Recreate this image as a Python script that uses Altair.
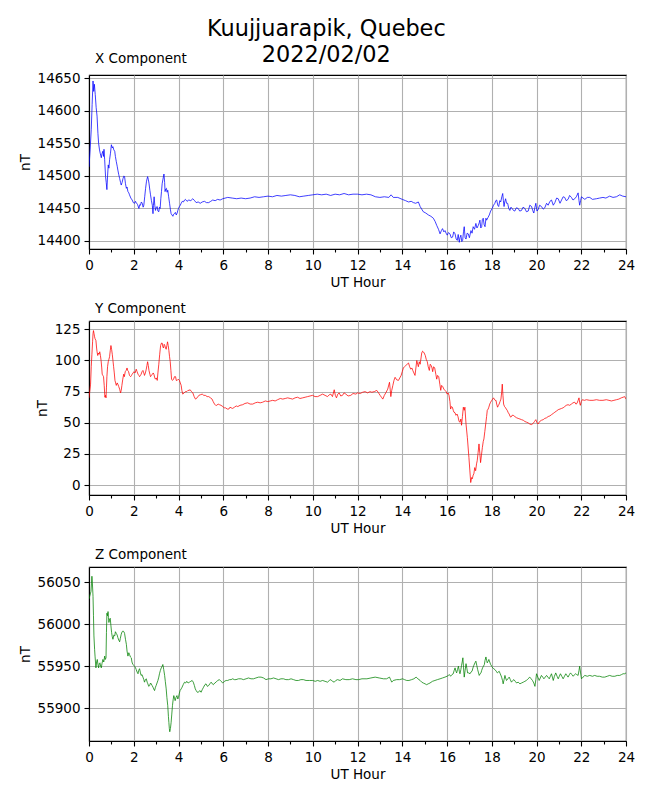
import altair as alt
import pandas as pd

FONT = "DejaVu Sans"
TITLE_LINES = ["Kuujjuarapik, Quebec", "2022/02/02"]
PANEL_TITLES = ["X Component", "Y Component", "Z Component"]
COLORS = ["#0000ff", "#ff0000", "#008000"]
HOUR_TICKS = list(range(0, 25))
X_COMP_TICKS = [14400, 14450, 14500, 14550, 14600, 14650]
Y_COMP_TICKS = [0, 25, 50, 75, 100, 125]
Z_COMP_TICKS = [55900, 55950, 56000, 56050]
X_DOMAIN = [14387.7, 14655.2]
Y_DOMAIN = [-8.0, 131.7]
Z_DOMAIN = [55861, 56068]

# (UT hour, nT)
X_SERIES = [
    (0.00, 14514), (0.05, 14540), (0.10, 14571), (0.14, 14610), (0.18, 14646), (0.21, 14630),
    (0.24, 14641), (0.28, 14625), (0.32, 14605), (0.36, 14592), (0.40, 14565), (0.43, 14550),
    (0.47, 14540), (0.50, 14535), (0.55, 14528), (0.58, 14534), (0.62, 14538), (0.65, 14530),
    (0.67, 14541), (0.70, 14525), (0.74, 14499), (0.77, 14490), (0.80, 14479), (0.83, 14500),
    (0.86, 14517), (0.89, 14512), (0.92, 14525), (0.96, 14535), (1.00, 14548), (1.04, 14543),
    (1.07, 14545), (1.11, 14540), (1.15, 14538), (1.18, 14530), (1.22, 14522), (1.26, 14515),
    (1.29, 14509), (1.33, 14502), (1.37, 14496), (1.41, 14490), (1.44, 14486), (1.48, 14490),
    (1.52, 14496), (1.56, 14500), (1.59, 14499), (1.63, 14488), (1.67, 14481), (1.70, 14483),
    (1.74, 14476), (1.78, 14474), (1.81, 14471), (1.87, 14466), (1.93, 14463), (1.98, 14459),
    (2.04, 14458), (2.08, 14461), (2.11, 14459), (2.17, 14456), (2.23, 14450), (2.27, 14456),
    (2.30, 14455), (2.34, 14460), (2.38, 14458), (2.42, 14452), (2.45, 14455), (2.49, 14468),
    (2.53, 14481), (2.57, 14492), (2.62, 14499), (2.65, 14495), (2.68, 14489), (2.72, 14478),
    (2.75, 14471), (2.79, 14462), (2.83, 14455), (2.86, 14442), (2.88, 14455), (2.91, 14468),
    (2.94, 14455), (2.97, 14447), (3.01, 14452), (3.05, 14453), (3.08, 14446), (3.12, 14445),
    (3.15, 14452), (3.18, 14450), (3.21, 14465), (3.24, 14476), (3.27, 14488), (3.30, 14494),
    (3.35, 14503), (3.38, 14490), (3.40, 14476), (3.43, 14480), (3.46, 14481), (3.49, 14475),
    (3.52, 14478), (3.56, 14468), (3.60, 14458), (3.64, 14448), (3.67, 14442), (3.71, 14440),
    (3.75, 14438), (3.78, 14441), (3.82, 14442), (3.86, 14444), (3.90, 14440), (3.94, 14443),
    (3.97, 14447), (4.00, 14450), (4.04, 14453), (4.08, 14455), (4.12, 14458), (4.17, 14461),
    (4.22, 14460), (4.27, 14463), (4.31, 14464), (4.38, 14461), (4.46, 14463), (4.55, 14462),
    (4.64, 14465), (4.72, 14462), (4.79, 14459), (4.88, 14460), (4.97, 14458), (5.06, 14460),
    (5.16, 14461), (5.25, 14459), (5.35, 14459), (5.44, 14461), (5.53, 14463), (5.64, 14462),
    (5.75, 14464), (5.86, 14463), (5.98, 14465), (6.20, 14467), (6.40, 14466), (6.60, 14465),
    (6.80, 14466), (7.00, 14465), (7.20, 14466), (7.40, 14468), (7.60, 14467), (7.80, 14468),
    (8.00, 14469), (8.20, 14468), (8.40, 14470), (8.60, 14469), (8.80, 14470), (9.00, 14471),
    (9.20, 14470), (9.40, 14468), (9.60, 14469), (9.80, 14470), (10.00, 14471), (10.20, 14472),
    (10.40, 14471), (10.60, 14472), (10.80, 14470), (11.00, 14472), (11.20, 14471), (11.40, 14473),
    (11.60, 14471), (11.80, 14472), (12.00, 14472), (12.20, 14471), (12.40, 14472), (12.60, 14471),
    (12.80, 14468), (13.00, 14467), (13.20, 14468), (13.40, 14467), (13.50, 14471), (13.60, 14467),
    (13.80, 14467), (14.00, 14464), (14.15, 14462), (14.28, 14460), (14.40, 14461), (14.50, 14459),
    (14.60, 14458), (14.72, 14460), (14.80, 14453), (14.87, 14449), (14.94, 14445), (15.05, 14443),
    (15.17, 14440), (15.28, 14438), (15.39, 14435), (15.47, 14430), (15.54, 14424), (15.62, 14418),
    (15.69, 14411), (15.75, 14416), (15.80, 14419), (15.86, 14414), (15.91, 14416), (15.96, 14412),
    (16.01, 14409), (16.07, 14413), (16.13, 14411), (16.19, 14405), (16.25, 14406), (16.30, 14414),
    (16.36, 14411), (16.41, 14403), (16.46, 14401), (16.50, 14410), (16.55, 14398), (16.58, 14405),
    (16.62, 14409), (16.66, 14399), (16.70, 14401), (16.74, 14415), (16.77, 14422), (16.81, 14405),
    (16.85, 14403), (16.90, 14412), (16.95, 14411), (17.00, 14405), (17.07, 14416), (17.12, 14412),
    (17.17, 14422), (17.23, 14418), (17.29, 14427), (17.34, 14420), (17.40, 14424), (17.44, 14428),
    (17.47, 14432), (17.51, 14420), (17.55, 14422), (17.58, 14433), (17.62, 14435), (17.66, 14425),
    (17.70, 14422), (17.74, 14435), (17.77, 14432), (17.83, 14436), (17.89, 14440), (17.95, 14446),
    (18.02, 14450), (18.08, 14455), (18.14, 14458), (18.18, 14462), (18.22, 14463), (18.27, 14455),
    (18.31, 14453), (18.36, 14462), (18.40, 14460), (18.45, 14468), (18.49, 14473), (18.52, 14462),
    (18.55, 14453), (18.58, 14460), (18.62, 14465), (18.66, 14458), (18.71, 14458), (18.76, 14450),
    (18.81, 14447), (18.86, 14452), (18.91, 14450), (18.97, 14447), (19.03, 14446), (19.10, 14451),
    (19.18, 14450), (19.25, 14446), (19.33, 14447), (19.40, 14452), (19.48, 14450), (19.55, 14445),
    (19.63, 14446), (19.70, 14455), (19.78, 14453), (19.83, 14447), (19.88, 14443), (19.93, 14452),
    (19.97, 14458), (20.02, 14446), (20.07, 14448), (20.14, 14455), (20.22, 14453), (20.30, 14449),
    (20.37, 14451), (20.45, 14458), (20.52, 14455), (20.60, 14461), (20.67, 14463), (20.75, 14455),
    (20.82, 14459), (20.90, 14466), (20.97, 14465), (21.05, 14458), (21.12, 14463), (21.19, 14468),
    (21.26, 14467), (21.33, 14462), (21.41, 14464), (21.48, 14470), (21.56, 14467), (21.63, 14463),
    (21.71, 14465), (21.78, 14468), (21.86, 14474), (21.90, 14462), (21.93, 14455), (21.97, 14462),
    (22.01, 14468), (22.08, 14466), (22.16, 14464), (22.27, 14467), (22.38, 14467), (22.50, 14464),
    (22.68, 14465), (22.82, 14466), (22.97, 14467), (23.10, 14466), (23.27, 14469), (23.42, 14467),
    (23.57, 14468), (23.72, 14471), (23.85, 14469), (24.00, 14468),
]

Y_SERIES = [
    (0.00, 70), (0.04, 76), (0.07, 81), (0.10, 95), (0.13, 105), (0.16, 115), (0.18, 121.5),
    (0.20, 124), (0.22, 122), (0.25, 119), (0.27, 117.5), (0.31, 116), (0.34, 110), (0.36, 107),
    (0.39, 104), (0.42, 106), (0.45, 105), (0.48, 107), (0.51, 104), (0.54, 100), (0.57, 94),
    (0.59, 89), (0.62, 88), (0.65, 87), (0.68, 80), (0.71, 70.5), (0.74, 72), (0.76, 70),
    (0.78, 78), (0.80, 87), (0.83, 95), (0.86, 99), (0.89, 101), (0.92, 103), (0.95, 108),
    (0.98, 112), (1.01, 109), (1.04, 105), (1.07, 100), (1.10, 95), (1.13, 90), (1.16, 84),
    (1.19, 82), (1.22, 80), (1.26, 82), (1.29, 81), (1.33, 79), (1.37, 77), (1.41, 74),
    (1.44, 76), (1.47, 80), (1.51, 85), (1.55, 89), (1.58, 87), (1.62, 91), (1.66, 92),
    (1.70, 94), (1.73, 92), (1.77, 91), (1.81, 88), (1.86, 87), (1.90, 88), (1.93, 89),
    (1.97, 90), (2.01, 91), (2.06, 90), (2.11, 93), (2.15, 91), (2.19, 89), (2.23, 88),
    (2.26, 87), (2.30, 88), (2.33, 89), (2.37, 91), (2.41, 92), (2.45, 90), (2.48, 88),
    (2.52, 90), (2.56, 93), (2.59, 96), (2.62, 99), (2.65, 96), (2.68, 92), (2.72, 89),
    (2.75, 87), (2.79, 88), (2.83, 89), (2.87, 90), (2.90, 89), (2.94, 86), (2.97, 85),
    (3.01, 86), (3.05, 84), (3.08, 90), (3.12, 97), (3.16, 105), (3.20, 112), (3.24, 114),
    (3.27, 114), (3.30, 111), (3.33, 110), (3.36, 113), (3.39, 112), (3.42, 110), (3.45, 109),
    (3.48, 112), (3.51, 115), (3.54, 112), (3.57, 108), (3.60, 103), (3.63, 99), (3.66, 92),
    (3.69, 85), (3.73, 84), (3.78, 85), (3.82, 87), (3.87, 87), (3.90, 84), (3.94, 84),
    (3.99, 85), (4.04, 84), (4.08, 82), (4.12, 80), (4.15, 76), (4.19, 73), (4.25, 74),
    (4.31, 75), (4.37, 75), (4.42, 76), (4.47, 76), (4.52, 76.5), (4.58, 75), (4.64, 74),
    (4.70, 71), (4.76, 69), (4.83, 70), (4.91, 72), (4.98, 72.5), (5.06, 73), (5.13, 72),
    (5.20, 72), (5.28, 71), (5.35, 71), (5.43, 70), (5.50, 69), (5.55, 67), (5.61, 65),
    (5.66, 64), (5.71, 64), (5.77, 65), (5.83, 64.5), (5.90, 64), (5.98, 63), (6.04, 62),
    (6.10, 62), (6.18, 61), (6.25, 61), (6.30, 62.5), (6.35, 62), (6.42, 61.5), (6.50, 62.5),
    (6.58, 63.5), (6.65, 63), (6.75, 64), (6.87, 64.5), (6.97, 65.5), (7.09, 66), (7.20, 65),
    (7.32, 65), (7.43, 66), (7.54, 66.5), (7.65, 66), (7.76, 66.5), (7.88, 67.5), (7.99, 67),
    (8.10, 67.5), (8.21, 68), (8.32, 67.5), (8.43, 68.5), (8.55, 69.5), (8.66, 69), (8.77, 69.5),
    (8.88, 70), (8.99, 69.5), (9.10, 69), (9.21, 70), (9.32, 70.5), (9.43, 69.5), (9.55, 70),
    (9.66, 70.5), (9.77, 71), (9.88, 71.5), (9.99, 72), (10.10, 71), (10.22, 71), (10.33, 72),
    (10.44, 73), (10.55, 72), (10.66, 71), (10.74, 72.5), (10.81, 73), (10.88, 71), (10.96, 76.5),
    (11.01, 72), (11.06, 70), (11.12, 73), (11.18, 74), (11.25, 71.5), (11.33, 72), (11.40, 74),
    (11.48, 73), (11.58, 71.5), (11.70, 72), (11.80, 73.5), (11.93, 73), (12.00, 74),
    (12.12, 73.5), (12.23, 74.5), (12.34, 75), (12.45, 74), (12.56, 75), (12.64, 74.5),
    (12.75, 75), (12.86, 76), (12.94, 74), (13.01, 72), (13.07, 70.5), (13.13, 69), (13.20, 72),
    (13.28, 74.5), (13.35, 77), (13.43, 82.5), (13.46, 77), (13.49, 71), (13.53, 76), (13.58, 80),
    (13.63, 84), (13.68, 86.5), (13.75, 84.5), (13.83, 84), (13.89, 86), (13.95, 88), (14.00, 91),
    (14.05, 94), (14.10, 95), (14.16, 96), (14.22, 97), (14.28, 98), (14.33, 95), (14.38, 93),
    (14.43, 94), (14.47, 92), (14.52, 90), (14.57, 88), (14.61, 94), (14.65, 100), (14.69, 97),
    (14.72, 95), (14.76, 99), (14.80, 97), (14.84, 102), (14.87, 106), (14.91, 107.5),
    (14.94, 107), (14.98, 106), (15.03, 104), (15.07, 101), (15.12, 99), (15.16, 95), (15.21, 92),
    (15.25, 97), (15.29, 96), (15.33, 94), (15.36, 91), (15.40, 95), (15.45, 94), (15.50, 89),
    (15.54, 85), (15.58, 88), (15.63, 87), (15.68, 81), (15.72, 76), (15.76, 80), (15.81, 79),
    (15.86, 77), (15.91, 76), (15.96, 75), (16.01, 73), (16.05, 74), (16.09, 72), (16.13, 67),
    (16.16, 61), (16.20, 63), (16.24, 62.5), (16.28, 60), (16.31, 58.5), (16.36, 58), (16.40, 56),
    (16.45, 57), (16.49, 55), (16.54, 51), (16.58, 50.5), (16.62, 53), (16.65, 48), (16.69, 55),
    (16.73, 62.5), (16.77, 60), (16.80, 62.5), (16.85, 49), (16.91, 38), (16.98, 22), (17.02, 12),
    (17.06, 2), (17.10, 6), (17.13, 5), (17.17, 8), (17.20, 9), (17.24, 14), (17.28, 11.5),
    (17.32, 17), (17.35, 19.5), (17.39, 26), (17.43, 33), (17.47, 25), (17.50, 18), (17.54, 24),
    (17.58, 30), (17.62, 35), (17.65, 37), (17.69, 43), (17.73, 49), (17.77, 55), (17.80, 60),
    (17.84, 61), (17.87, 62.5), (17.91, 65), (17.95, 66.5), (18.00, 68), (18.04, 69), (18.08, 70),
    (18.11, 69), (18.15, 68), (18.19, 68), (18.22, 65), (18.26, 62.5), (18.30, 64), (18.33, 65),
    (18.37, 67), (18.41, 69), (18.44, 74), (18.47, 81), (18.50, 72), (18.53, 65), (18.57, 63),
    (18.60, 62.5), (18.65, 61), (18.69, 60), (18.74, 58), (18.78, 57), (18.82, 55), (18.86, 54.5),
    (18.91, 56), (18.96, 56), (19.03, 55), (19.11, 54), (19.18, 53.5), (19.26, 53), (19.33, 52.5),
    (19.41, 52), (19.48, 51), (19.55, 50.5), (19.62, 50), (19.70, 49), (19.77, 48.5),
    (19.85, 49.5), (19.91, 51), (19.97, 52.5), (20.02, 50), (20.07, 49), (20.14, 51), (20.22, 52),
    (20.30, 52.5), (20.37, 53.5), (20.45, 54), (20.52, 55), (20.60, 55.5), (20.67, 56.5),
    (20.75, 57.5), (20.82, 58.5), (20.90, 59.5), (20.97, 60.5), (21.05, 61), (21.12, 61.5),
    (21.19, 62), (21.26, 63), (21.33, 64), (21.41, 64.5), (21.48, 64), (21.56, 65), (21.63, 66),
    (21.71, 66.5), (21.76, 65), (21.81, 65.5), (21.86, 68), (21.90, 70), (21.93, 66), (21.96, 64),
    (22.00, 67), (22.05, 68.5), (22.14, 68), (22.23, 68.5), (22.38, 68), (22.53, 68),
    (22.68, 68.5), (22.82, 68), (22.97, 68), (23.12, 68.5), (23.24, 68), (23.35, 67.5),
    (23.46, 68), (23.57, 68.5), (23.68, 69), (23.79, 70), (23.87, 70.5), (23.94, 71), (24.00, 69),
]

Z_SERIES = [
    (0.00, 56030), (0.03, 56033), (0.06, 56036), (0.09, 56039), (0.11, 56048), (0.13, 56057),
    (0.15, 56050), (0.18, 56033), (0.20, 56010), (0.22, 55986), (0.25, 55970), (0.27, 55962),
    (0.29, 55955), (0.31, 55948), (0.34, 55955), (0.37, 55958), (0.40, 55952), (0.43, 55948),
    (0.46, 55953), (0.49, 55954), (0.52, 55950), (0.55, 55948), (0.58, 55953), (0.62, 55958),
    (0.66, 55955), (0.70, 55962), (0.73, 55958), (0.76, 55960), (0.78, 55990), (0.80, 56013),
    (0.83, 56010), (0.85, 56015), (0.87, 56008), (0.89, 56002), (0.92, 56006), (0.95, 56007),
    (0.98, 55998), (1.01, 55990), (1.04, 55985), (1.07, 55982), (1.11, 55987), (1.15, 55986),
    (1.18, 55991), (1.22, 55989), (1.26, 55987), (1.29, 55984), (1.33, 55981), (1.37, 55979),
    (1.40, 55983), (1.44, 55988), (1.48, 55991), (1.52, 55992), (1.56, 55991), (1.59, 55989),
    (1.63, 55982), (1.67, 55976), (1.70, 55968), (1.74, 55962), (1.78, 55966), (1.81, 55964),
    (1.85, 55961), (1.89, 55960), (1.92, 55955), (1.96, 55952), (2.00, 55951), (2.04, 55950),
    (2.08, 55948), (2.11, 55946), (2.15, 55943), (2.19, 55941), (2.22, 55945), (2.26, 55947),
    (2.30, 55942), (2.33, 55939), (2.37, 55940), (2.41, 55937), (2.45, 55934), (2.48, 55931),
    (2.52, 55934), (2.56, 55935), (2.60, 55931), (2.63, 55929), (2.67, 55926), (2.71, 55927),
    (2.75, 55930), (2.78, 55929), (2.82, 55927), (2.86, 55925), (2.89, 55923), (2.93, 55921),
    (2.97, 55925), (3.00, 55927), (3.04, 55930), (3.08, 55933), (3.12, 55937), (3.15, 55941),
    (3.19, 55945), (3.23, 55948), (3.27, 55950), (3.30, 55952), (3.34, 55946), (3.38, 55939),
    (3.41, 55932), (3.45, 55923), (3.48, 55913), (3.52, 55903), (3.55, 55890), (3.57, 55883),
    (3.59, 55876), (3.61, 55872), (3.64, 55876), (3.67, 55883), (3.70, 55893), (3.73, 55903),
    (3.76, 55910), (3.79, 55915), (3.82, 55912), (3.85, 55909), (3.89, 55913), (3.93, 55915),
    (3.97, 55911), (4.00, 55913), (4.04, 55918), (4.07, 55921), (4.12, 55923), (4.16, 55925),
    (4.21, 55928), (4.27, 55931), (4.32, 55930), (4.37, 55932), (4.43, 55930), (4.49, 55931),
    (4.55, 55932), (4.61, 55933), (4.66, 55931), (4.71, 55927), (4.75, 55923), (4.79, 55921),
    (4.84, 55919), (4.89, 55919), (4.95, 55921), (5.01, 55919), (5.06, 55922), (5.12, 55925),
    (5.18, 55928), (5.23, 55929), (5.29, 55926), (5.35, 55927), (5.40, 55929), (5.46, 55931),
    (5.51, 55929), (5.56, 55928), (5.62, 55930), (5.68, 55931), (5.75, 55933), (5.83, 55934),
    (5.90, 55932), (5.98, 55930), (6.05, 55932), (6.13, 55933), (6.20, 55933), (6.28, 55934),
    (6.35, 55934), (6.42, 55935), (6.50, 55934), (6.57, 55934), (6.68, 55935), (6.80, 55935),
    (6.90, 55934), (7.02, 55935), (7.13, 55936), (7.24, 55935), (7.35, 55935), (7.46, 55936),
    (7.58, 55937), (7.69, 55937), (7.80, 55936), (7.91, 55934), (8.02, 55935), (8.13, 55935),
    (8.25, 55936), (8.36, 55935), (8.47, 55934), (8.58, 55935), (8.69, 55935), (8.80, 55934),
    (8.92, 55934), (9.03, 55935), (9.14, 55934), (9.25, 55933), (9.36, 55933), (9.47, 55934),
    (9.58, 55934), (9.70, 55933), (9.85, 55933), (10.00, 55933), (10.11, 55932), (10.22, 55933),
    (10.33, 55932), (10.44, 55933), (10.55, 55932), (10.66, 55931), (10.74, 55933), (10.81, 55934),
    (10.88, 55932), (10.96, 55931), (11.03, 55933), (11.11, 55934), (11.22, 55933), (11.33, 55935),
    (11.48, 55934), (11.63, 55934), (11.78, 55935), (11.93, 55934), (12.05, 55934), (12.20, 55935),
    (12.42, 55935), (12.60, 55936), (12.79, 55937), (12.97, 55936), (13.16, 55935), (13.30, 55935),
    (13.43, 55937), (13.48, 55934), (13.53, 55931), (13.60, 55933), (13.75, 55934), (13.88, 55934),
    (14.02, 55935), (14.10, 55934), (14.20, 55933), (14.30, 55933), (14.42, 55934), (14.52, 55935),
    (14.62, 55937), (14.70, 55935), (14.80, 55933), (14.87, 55931), (14.94, 55930), (15.02, 55929),
    (15.09, 55928), (15.16, 55929), (15.24, 55930), (15.35, 55932), (15.46, 55933), (15.57, 55934),
    (15.69, 55935), (15.80, 55936), (15.91, 55937), (16.00, 55938), (16.06, 55939), (16.11, 55940),
    (16.16, 55938), (16.22, 55940), (16.28, 55941), (16.32, 55945), (16.36, 55948), (16.40, 55944),
    (16.43, 55942), (16.47, 55946), (16.51, 55950), (16.55, 55944), (16.58, 55941), (16.62, 55946),
    (16.65, 55951), (16.68, 55955), (16.71, 55960), (16.74, 55948), (16.77, 55937), (16.81, 55945),
    (16.85, 55953), (16.89, 55947), (16.92, 55942), (16.97, 55942), (17.03, 55941), (17.07, 55943),
    (17.12, 55944), (17.16, 55948), (17.20, 55951), (17.25, 55954), (17.29, 55956), (17.33, 55951),
    (17.37, 55946), (17.41, 55942), (17.44, 55939), (17.48, 55941), (17.52, 55942), (17.55, 55945),
    (17.59, 55948), (17.63, 55950), (17.67, 55952), (17.70, 55957), (17.74, 55961), (17.77, 55957),
    (17.80, 55954), (17.84, 55956), (17.87, 55958), (17.91, 55955), (17.95, 55952), (18.00, 55950),
    (18.04, 55948), (18.09, 55947), (18.14, 55946), (18.20, 55944), (18.25, 55942), (18.29, 55943),
    (18.33, 55944), (18.38, 55941), (18.44, 55937), (18.48, 55933), (18.51, 55929), (18.55, 55934),
    (18.59, 55939), (18.62, 55936), (18.66, 55933), (18.72, 55935), (18.78, 55937), (18.83, 55934),
    (18.88, 55931), (18.94, 55933), (18.99, 55934), (19.05, 55932), (19.11, 55930), (19.18, 55931),
    (19.26, 55929), (19.33, 55930), (19.41, 55931), (19.48, 55932), (19.55, 55933), (19.62, 55935),
    (19.70, 55937), (19.76, 55935), (19.82, 55933), (19.88, 55930), (19.93, 55926), (19.97, 55934),
    (20.00, 55941), (20.06, 55937), (20.12, 55933), (20.17, 55936), (20.22, 55939), (20.28, 55937),
    (20.33, 55935), (20.39, 55937), (20.45, 55939), (20.51, 55937), (20.57, 55935), (20.62, 55938),
    (20.67, 55941), (20.71, 55937), (20.75, 55933), (20.80, 55938), (20.86, 55942), (20.92, 55938),
    (20.97, 55935), (21.02, 55938), (21.07, 55941), (21.13, 55938), (21.19, 55935), (21.25, 55938),
    (21.31, 55941), (21.36, 55939), (21.41, 55937), (21.47, 55940), (21.52, 55942), (21.58, 55940),
    (21.64, 55938), (21.70, 55940), (21.75, 55941), (21.80, 55940), (21.86, 55939), (21.90, 55945),
    (21.93, 55950), (21.97, 55942), (22.01, 55935), (22.08, 55937), (22.16, 55939), (22.27, 55938),
    (22.38, 55939), (22.50, 55938), (22.60, 55939), (22.71, 55938), (22.82, 55938), (22.94, 55937),
    (23.05, 55937), (23.16, 55938), (23.27, 55939), (23.38, 55938), (23.50, 55938), (23.61, 55939),
    (23.72, 55939), (23.80, 55940), (23.87, 55941), (23.94, 55941), (24.00, 55942),
]

EVEN = "datum.value % 2 === 0"


def panel(series, title, color, ticks, domain):
    df = pd.DataFrame(series, columns=["hour", "nT"])
    return (
        alt.Chart(df)
        .mark_line(color=color, strokeWidth=0.75, clip=True)
        .encode(
            x=alt.X(
                "hour:Q",
                scale=alt.Scale(domain=[0, 24], nice=False, zero=False),
                axis=alt.Axis(
                    values=HOUR_TICKS,
                    title="UT Hour",
                    labelExpr=EVEN + " ? datum.label : ''",
                    tickSize={"condition": {"test": EVEN, "value": 5}, "value": 3},
                    gridOpacity={"condition": {"test": EVEN, "value": 1}, "value": 0},
                    labelFlush=False,
                    labelOverlap=False,
                    titlePadding=4,
                ),
            ),
            y=alt.Y(
                "nT:Q",
                scale=alt.Scale(domain=domain, nice=False, zero=False),
                axis=alt.Axis(
                    values=ticks,
                    title="nT",
                    format="d",
                    labelFlush=False,
                    labelOverlap=False,
                    tickSize=5,
                    titlePadding=5,
                ),
            ),
        )
        .properties(
            width=537,
            height=174,
            title=alt.TitleParams(
                title, anchor="start", frame="group", dx=6, fontSize=13.5,
                fontWeight="normal", font=FONT, color="black", offset=6,
            ),
        )
    )


p1 = panel(X_SERIES, PANEL_TITLES[0], COLORS[0], X_COMP_TICKS, X_DOMAIN)
p2 = panel(Y_SERIES, PANEL_TITLES[1], COLORS[1], Y_COMP_TICKS, Y_DOMAIN)
p3 = panel(Z_SERIES, PANEL_TITLES[2], COLORS[2], Z_COMP_TICKS, Z_DOMAIN)

chart = (
    alt.vconcat(p1, p2, p3, spacing=10)
    .properties(
        title=alt.TitleParams(
            TITLE_LINES, fontSize=22.4, fontWeight="normal", font=FONT, color="black",
            anchor="middle", lineHeight=26, offset=-15, dx=0,
        ),
        padding={"left": 9, "top": 9, "right": 5, "bottom": 5},
    )
    .configure_view(stroke="black", strokeWidth=1.1)
    .configure_axis(
        labelFont=FONT, titleFont=FONT, labelFontSize=13.5, titleFontSize=13.5,
        labelColor="black", titleColor="black", titleFontWeight="normal",
        tickColor="black", domainColor="black", gridColor="#b0b0b0", gridWidth=1.1,
        tickWidth=1.1, domainWidth=1.1, labelPadding=4,
    )
)

chart.save("out.html", embed_options={"renderer": "svg", "actions": False})
